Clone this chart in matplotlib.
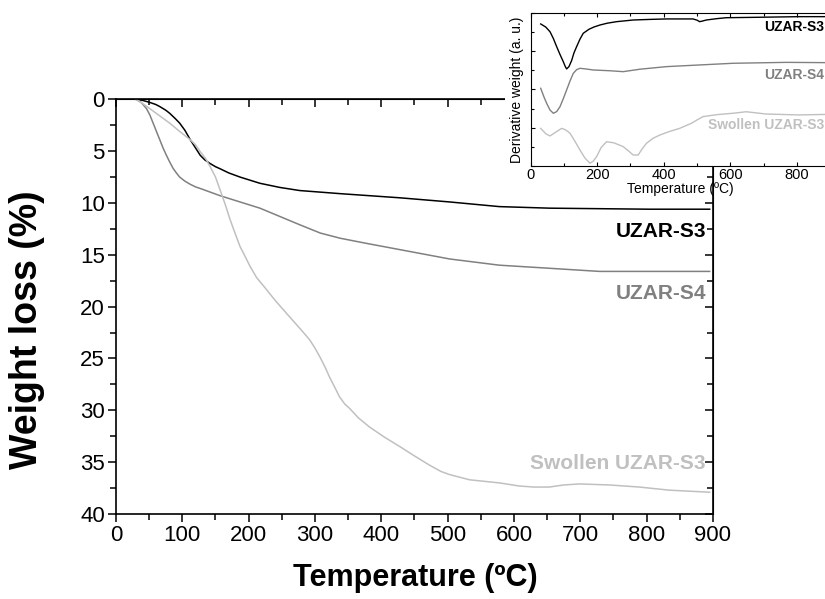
import matplotlib
matplotlib.use('Agg')
from matplotlib import pyplot as plt
from matplotlib.ticker import MultipleLocator
from matplotlib.patches import Rectangle

plt.rcParams['font.family'] = ['Liberation Sans', 'DejaVu Sans']

# main TGA curves: temperature (C) and weight loss (%)
s3_temp = [30, 40, 51, 60, 66, 75, 81, 90, 96, 104, 112, 120, 127, 134, 142, 150, 157, 170, 187, 217, 247, 277, 338, 428, 503, 578, 654, 729, 804, 895]
s3_loss = [0, 0.1, 0.3, 0.5, 0.7, 1.05, 1.35, 1.9, 2.3, 3.0, 3.9, 4.7, 5.4, 5.85, 6.2, 6.5, 6.7, 7.1, 7.5, 8.1, 8.5, 8.8, 9.1, 9.5, 9.9, 10.35, 10.5, 10.55, 10.6, 10.6]

s4_temp = [30, 38, 46, 51, 56, 61, 66, 71, 76, 81, 86, 91, 96, 104, 112, 120, 127, 142, 157, 187, 217, 247, 277, 308, 338, 378, 428, 503, 578, 654, 729, 804, 895]
s4_loss = [0, 0.3, 0.9, 1.5, 2.3, 3.1, 3.9, 4.7, 5.4, 6.05, 6.65, 7.1, 7.5, 7.9, 8.2, 8.45, 8.6, 8.95, 9.3, 9.9, 10.5, 11.3, 12.1, 12.9, 13.4, 13.9, 14.5, 15.4, 16.0, 16.3, 16.6, 16.6, 16.6]

sw_temp = [30, 40, 51, 66, 81, 96, 112, 120, 127, 135, 142, 150, 157, 165, 172, 180, 187, 195, 202, 212, 225, 240, 262, 280, 292, 300, 307, 315, 322, 330, 337, 345, 352, 365, 382, 405, 428, 450, 473, 490, 503, 533, 578, 608, 630, 653, 675, 699, 744, 789, 834, 895]
sw_loss = [0, 0.4, 0.9, 1.6, 2.3, 3.1, 3.9, 4.4, 5.05, 5.7, 6.5, 7.5, 8.75, 10.2, 11.6, 13.0, 14.2, 15.2, 16.1, 17.2, 18.2, 19.4, 21.0, 22.3, 23.2, 24.0, 24.8, 25.8, 26.8, 27.8, 28.7, 29.4, 29.8, 30.7, 31.6, 32.6, 33.5, 34.4, 35.3, 35.9, 36.2, 36.7, 37.0, 37.3, 37.4, 37.4, 37.2, 37.1, 37.2, 37.4, 37.7, 37.9]

# inset DTG curves (arbitrary units)
d3_temp = [30, 45, 58, 68, 78, 88, 98, 104, 108, 115, 123, 130, 138, 148, 158, 175, 190, 208, 230, 258, 308, 360, 408, 488, 500, 508, 518, 528, 560, 588, 688, 808, 900]
d3_val = [9.30, 9.1, 8.79, 8.35, 7.81, 7.3, 6.82, 6.5, 6.35, 6.5, 6.9, 7.4, 7.81, 8.3, 8.69, 8.95, 9.1, 9.23, 9.35, 9.45, 9.56, 9.6, 9.63, 9.63, 9.55, 9.45, 9.5, 9.56, 9.65, 9.71, 9.74, 9.78, 9.78]

d4_temp = [30, 40, 48, 58, 68, 78, 88, 98, 108, 118, 128, 138, 148, 165, 188, 238, 278, 328, 408, 508, 608, 768, 900]
d4_val = [5.08, 4.5, 4.09, 3.65, 3.44, 3.55, 3.87, 4.4, 4.97, 5.55, 6.06, 6.3, 6.39, 6.35, 6.28, 6.23, 6.17, 6.33, 6.50, 6.61, 6.72, 6.78, 6.76]

dsw_temp = [30, 45, 58, 75, 93, 105, 118, 133, 148, 163, 178, 188, 198, 212, 228, 250, 278, 295, 308, 323, 335, 348, 368, 388, 418, 448, 483, 500, 518, 560, 608, 648, 708, 808, 900]
dsw_val = [2.45, 2.1, 1.95, 2.2, 2.45, 2.35, 2.13, 1.6, 1.03, 0.5, 0.16, 0.3, 0.59, 1.2, 1.57, 1.5, 1.25, 0.95, 0.70, 0.70, 1.1, 1.47, 1.8, 2.01, 2.25, 2.45, 2.78, 3.0, 3.22, 3.35, 3.44, 3.54, 3.39, 3.33, 3.37]

names = ['UZAR-S3', 'UZAR-S4', 'Swollen UZAR-S3']
colors = ['black', '#808080', '#c0c0c0']

fig = plt.figure(figsize=(8.25, 5.99), dpi=100)
ax = fig.add_axes([0.1406, 0.1419, 0.7236, 0.6923])

ax.plot(s3_temp, s3_loss, color=colors[0], linewidth=1.1)
ax.plot(s4_temp, s4_loss, color=colors[1], linewidth=1.1)
ax.plot(sw_temp, sw_loss, color=colors[2], linewidth=1.1)

ax.set_xlim(0, 900)
ax.set_ylim(40, 0)
ax.xaxis.set_major_locator(MultipleLocator(100))
ax.xaxis.set_minor_locator(MultipleLocator(50))
ax.yaxis.set_major_locator(MultipleLocator(5))
ax.yaxis.set_minor_locator(MultipleLocator(2.5))
ax.tick_params(which='both', direction='out', top=False, right=False, labelsize=16, pad=2, width=1.1)
ax.tick_params(which='major', length=6)
ax.tick_params(which='minor', length=4)
for s in ax.spines.values():
    s.set_linewidth(1.2)

# inward ticks on top and right
sec_x = ax.secondary_xaxis('top')
sec_x.xaxis.set_major_locator(MultipleLocator(100))
sec_x.xaxis.set_minor_locator(MultipleLocator(50))
sec_x.tick_params(which='both', direction='in', labeltop=False, width=1.1)
sec_x.tick_params(which='major', length=6)
sec_x.tick_params(which='minor', length=4)
sec_y = ax.secondary_yaxis('right')
sec_y.yaxis.set_major_locator(MultipleLocator(5))
sec_y.yaxis.set_minor_locator(MultipleLocator(2.5))
sec_y.tick_params(which='both', direction='in', labelright=False, width=1.1)
sec_y.tick_params(which='major', length=6)
sec_y.tick_params(which='minor', length=4)

ax.text(890, 12.75, names[0], color=colors[0], fontsize=15, fontweight='bold', ha='right', va='center')
ax.text(890, 18.7, names[1], color=colors[1], fontsize=15, fontweight='bold', ha='right', va='center')
ax.text(888, 35.1, names[2], color=colors[2], fontsize=15, fontweight='bold', ha='right', va='center')

fig.text(0.503, 0.035, 'Temperature (ºC)', fontsize=22, fontweight='bold', ha='center', va='center')
fig.text(0.033, 0.45, 'Weight loss (%)', fontsize=27, fontweight='bold', ha='center', va='center', rotation=90)

# white strip behind the inset's y label
fig.patches.append(Rectangle((0.612, 0.715), 0.04, 0.29, transform=fig.transFigure,
                             facecolor='white', edgecolor='none', zorder=0.5))

# inset
ins = fig.add_axes([0.6433, 0.7234, 0.3628, 0.2544])
ins.set_zorder(1)
ins.set_facecolor('white')
ins.plot(d3_temp, d3_val, color=colors[0], linewidth=1.0)
ins.plot(d4_temp, d4_val, color=colors[1], linewidth=1.0)
ins.plot(dsw_temp, dsw_val, color=colors[2], linewidth=1.0)
ins.set_xlim(0, 900)
ins.set_ylim(0, 10)
ins.xaxis.set_major_locator(MultipleLocator(200))
ins.xaxis.set_minor_locator(MultipleLocator(100))
ins.yaxis.set_major_locator(MultipleLocator(2.5))
ins.yaxis.set_minor_locator(MultipleLocator(1.25))
ins.tick_params(which='both', direction='in', top=True, right=True, labelsize=10.5, pad=2, width=0.8)
ins.tick_params(which='major', length=3)
ins.tick_params(which='minor', length=2)
ins.tick_params(axis='y', labelleft=False)
ins.set_xlabel('Temperature (ºC)', fontsize=10, labelpad=0)
ins.set_ylabel('Derivative weight (a. u.)', fontsize=10, labelpad=3)
ins.text(882, 9.1, names[0], color=colors[0], fontsize=10, fontweight='bold', ha='right', va='center')
ins.text(882, 5.95, names[1], color=colors[1], fontsize=10, fontweight='bold', ha='right', va='center')
ins.text(882, 2.67, names[2], color=colors[2], fontsize=10, fontweight='bold', ha='right', va='center')

plt.savefig('out.png', dpi=100)
